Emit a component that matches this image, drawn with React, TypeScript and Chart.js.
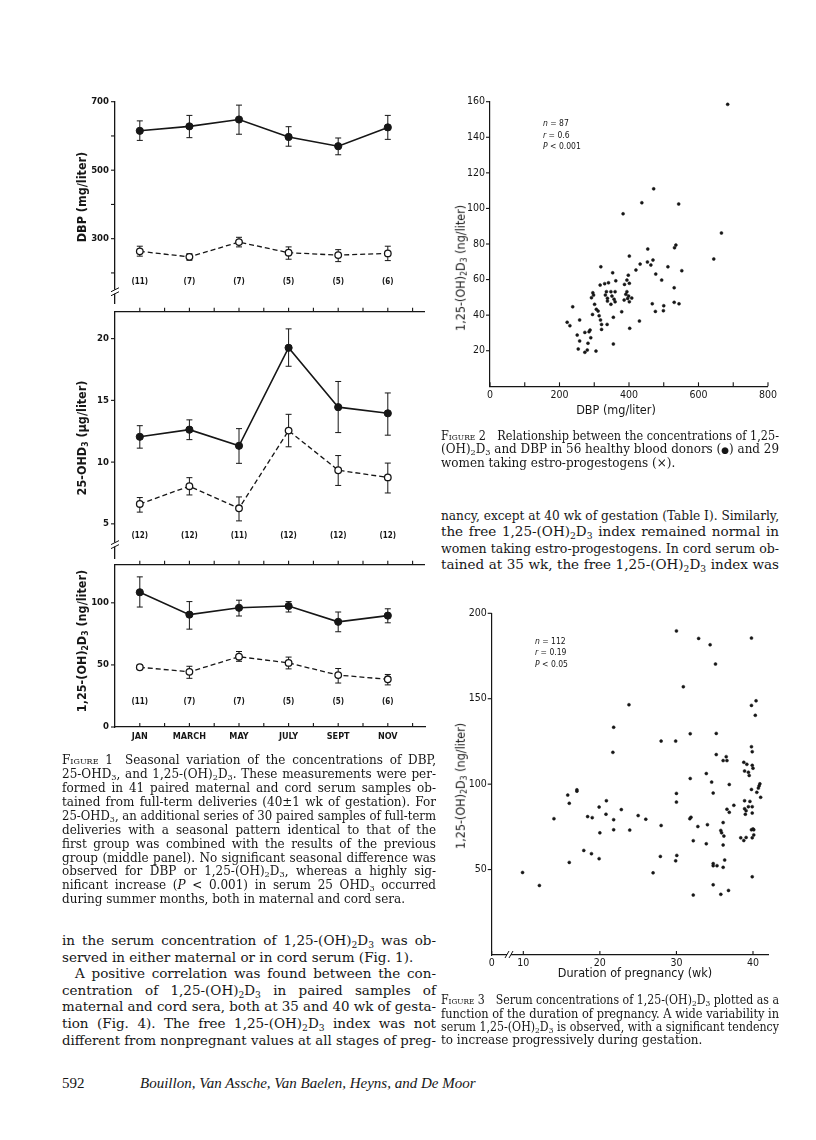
import React, { useEffect, useLayoutEffect, useRef } from 'react';
import { Chart, registerables } from 'chart.js';
Chart.register(...registerables);

// ---------------- Figure 1 data (seasonal variation) ----------------
const monthTickValues = [0, 1, 2, 3, 4, 5, 6, 7, 8, 9, 10, 11];
const monthTickLabels = ['JAN', '', 'MARCH', '', 'MAY', '', 'JULY', '', 'SEPT', '', 'NOV', ''];
const sampleMonths = [0, 2, 4, 6, 8, 10];

// DBP (mg/liter)
const dbpMaternal = [615, 628, 648, 597, 570, 625];
const dbpMaternalHi = [644, 660, 690, 627, 594, 660];
const dbpMaternalLo = [587, 595, 605, 570, 545, 590];
const dbpCord = [263, 247, 290, 259, 252, 257];
const dbpCordHi = [278, 256, 304, 276, 268, 278];
const dbpCordLo = [249, 237, 276, 240, 233, 236];
const dbpN = ['(11)', '(7)', '(7)', '(5)', '(5)', '(6)'];
const dbpTicks = [200, 300, 400, 500, 600, 700];
const dbpTickLabels = [300, 500, 700];

// 25-OHD3 (ug/liter)
const ohdMaternal = [12.05, 12.63, 11.32, 19.26, 14.45, 13.95];
const ohdMaternalHi = [12.95, 13.42, 12.71, 20.79, 16.53, 15.6];
const ohdMaternalLo = [11.13, 11.82, 9.9, 17.76, 12.39, 12.18];
const ohdCord = [6.61, 8.05, 6.26, 12.55, 9.34, 8.76];
const ohdCordHi = [7.13, 8.74, 7.18, 13.87, 10.53, 9.92];
const ohdCordLo = [5.95, 7.34, 5.24, 11.24, 8.11, 7.5];
const ohdN = ['(12)', '(12)', '(11)', '(12)', '(12)', '(12)'];
const ohdTicks = [5, 10, 15, 20];
const ohdTickLabels = [5, 10, 15, 20];

// 1,25-(OH)2D3 (ng/liter)
const calMaternal = [108.5, 90.5, 96, 97.4, 84.7, 89.7];
const calMaternalHi = [120.9, 101, 102.1, 101, 92.6, 95.2];
const calMaternalLo = [96.6, 78.8, 89.4, 92.6, 76.7, 83.9];
const calCord = [48.1, 44.4, 56.6, 51.6, 41.8, 38.4];
const calCordHi = [49.7, 48.9, 60.8, 56.3, 47.1, 42.3];
const calCordLo = [46.6, 39.2, 52.9, 46.8, 35.4, 33.9];
const calN = ['(11)', '(7)', '(7)', '(5)', '(5)', '(6)'];
const calTicks = [0, 50, 100];
const calTickLabels = [0, 50, 100];

// ---------------- Figure 2 data (DBP vs 1,25-(OH)2D3) ----------------
const fig2Dbp = [
  401, 319, 353, 398, 362, 394, 401, 387, 341, 330, 317, 296, 298, 335, 348, 360, 332, 351, 338, 338,
  357, 360, 348, 394, 391, 399, 396, 386, 401, 292, 301, 306, 311, 295, 314, 318, 238, 258, 222, 230,
  321, 337, 321, 355, 379, 402, 251, 273, 285, 288, 258, 290, 282, 254, 280, 273, 305, 355,
  437, 543, 666, 535, 531, 454, 644, 469, 453, 463, 432, 420, 512, 552, 477, 494, 530, 408, 467, 500,
  530, 544, 476, 499, 430, 684, 383, 471,
];
const fig2Calcitriol = [
  73.2, 67.2, 63.8, 62.5, 59.3, 59.7, 57.9, 57.3, 58.2, 57.7, 56.9, 52.6, 51.3, 53.2, 53.2, 53.2, 51.3, 50.7, 49.5, 47.9,
  49.0, 47.5, 46.1, 53.2, 51.7, 50.7, 49.4, 48.5, 47.5, 49.8, 46.1, 43.3, 42.3, 40.4, 39.7, 37.3, 44.7, 37.3, 36.0, 34.1,
  34.8, 34.8, 32.0, 38.8, 41.9, 32.6, 28.8, 30.3, 30.7, 31.6, 25.5, 27.3, 24.2, 21.0, 20.4, 19.1, 19.8, 23.8,
  103.2, 102.5, 86.2, 79.4, 77.9, 77.2, 71.6, 71.0, 69.9, 68.2, 68.7, 65.4, 67.2, 65.0, 63.1, 59.7, 55.4, 49.6, 46.4, 45.3,
  47.2, 46.4, 42.1, 42.5, 36.7, 158.5, 97.0, 111.0,
];
const fig2XTicks = [0, 100, 200, 300, 400, 500, 600, 700, 800];
const fig2XLabels = [0, 200, 400, 600, 800];
const fig2YTicks = [20, 40, 60, 80, 100, 120, 140, 160];

// ---------------- Figure 3 data (duration of pregnancy) ----------------
const fig3Weeks = [
  23.8, 21.8, 21.7, 17.0, 17.0, 15.8, 16.0, 20.85, 19.9, 22.8, 20.8, 18.4, 19.0, 14.0, 21.8, 21.8, 23.9, 20.0, 17.9, 18.9,
  19.9, 16.0, 9.9, 12.1,
  30.0, 32.9, 39.8, 34.4, 35.1, 30.9, 40.4, 39.8, 40.3, 31.8, 35.2, 28.0, 29.9, 39.8, 39.9, 35.2, 36.5, 36.1, 36.6, 38.8,
  39.2, 39.9, 40.0, 38.9, 39.4, 39.5, 33.9, 31.8,
  36.9, 34.6, 40.9, 40.8, 40.7, 39.8, 40.5, 41.0, 34.8, 30.0, 30.0, 38.9, 39.6, 37.5, 39.4, 39.9, 38.9, 36.6, 39.1, 36.9,
  39.9, 39.0, 25.0, 26.0, 31.9, 31.75, 28.0, 32.8, 34.05, 36.1, 35.8, 35.9, 36.2, 39.8, 40.0, 40.1, 40.1, 39.9, 38.4, 38.8,
  39.1, 32.2, 33.9, 36.1, 27.9, 30.05, 29.9, 36.3, 34.8, 34.8, 35.3, 36.1, 26.95, 39.9, 34.8, 32.2, 35.8, 36.8,
];
const fig3Calcitriol = [
  146.5, 133.3, 118.6, 96.7, 95.9, 93.6, 88.8, 90.3, 86.6, 85.1, 82.4, 81.0, 80.4, 79.8, 79.2, 73.3, 73.1, 71.5, 61.2, 59.3,
  56.4, 54.2, 48.3, 40.7,
  189.7, 185.3, 185.5, 181.6, 170.3, 157.0, 148.8, 146.1, 140.3, 129.5, 129.7, 125.2, 125.2, 121.9, 119.0, 117.3, 116.1, 113.8, 113.8, 112.8,
  111.6, 111.0, 109.3, 107.7, 107.0, 105.1, 106.2, 103.3,
  99.8, 101.2, 100.2, 99.0, 97.7, 96.9, 95.2, 92.3, 94.8, 94.6, 89.5, 90.3, 89.9, 87.6, 86.8, 86.8, 85.6, 85.3, 84.5, 83.5,
  83.1, 82.4, 81.6, 79.5, 80.6, 79.8, 75.8, 75.2, 76.3, 77.5, 72.9, 71.5, 69.6, 73.3, 73.8, 73.3, 70.3, 68.6, 68.6, 67.0,
  68.8, 66.9, 65.1, 64.4, 57.7, 58.3, 55.1, 55.6, 53.5, 52.3, 52.3, 51.3, 48.1, 45.8, 41.1, 35.1, 35.5, 37.8,
];
const fig3XMin = 5.87; // broken axis: this position is labelled "0"
const fig3XTicks = [fig3XMin, 10, 20, 30, 40];
const fig3YTicks = [50, 100, 150, 200];

// ---------------- shared styling ----------------
const SANS_N = '"Liberation Sans Narrow", "DejaVu Sans Condensed", "Liberation Sans", sans-serif';
const SERIF = '"DejaVu Serif", "Liberation Serif", serif';
const SERIF_T = '"Liberation Serif", "DejaVu Serif", serif';
const INK = '#161616';
Chart.defaults.font.family = SANS_N;
Chart.defaults.color = INK;

const extras = {
  id: 'extras',
  beforeDatasetsDraw(chart: any) {
    const ctx = chart.ctx;
    chart.data.datasets.forEach((ds: any, i: number) => {
      if (!ds.errHi) return;
      const meta = chart.getDatasetMeta(i);
      const ys = chart.scales[meta.yAxisID];
      ctx.save();
      ctx.strokeStyle = INK;
      ctx.lineWidth = 1;
      ctx.setLineDash([]);
      meta.data.forEach((pt: any, j: number) => {
        const x = pt.x;
        const yh = ys.getPixelForValue(ds.errHi[j]);
        const yl = ys.getPixelForValue(ds.errLo[j]);
        ctx.beginPath();
        ctx.moveTo(x, yh); ctx.lineTo(x, yl);
        ctx.moveTo(x - 3, yh); ctx.lineTo(x + 3, yh);
        ctx.moveTo(x - 3, yl); ctx.lineTo(x + 3, yl);
        ctx.stroke();
      });
      ctx.restore();
    });
  },
  afterDraw(chart: any, _args: any, opts: any) {
    const ctx = chart.ctx;
    const { left, right, top, bottom } = chart.chartArea;
    ctx.save();
    ctx.strokeStyle = INK;
    ctx.lineWidth = 1.1;
    ctx.setLineDash([]);
    (opts.marks || []).forEach((m: any) => {
      const s = chart.scales[m.axis];
      s.ticks.forEach((t: any) => {
        const p = s.getPixelForValue(t.value);
        ctx.beginPath();
        if (s.isHorizontal()) {
          const y0 = m.edge === 'top' ? top : bottom;
          ctx.moveTo(p, y0); ctx.lineTo(p, y0 + m.dir * m.len);
        } else {
          ctx.moveTo(left, p); ctx.lineTo(left + m.dir * m.len, p);
        }
        ctx.stroke();
      });
    });
    if (opts.topLine) {
      ctx.lineWidth = 1.3;
      ctx.beginPath(); ctx.moveTo(left, top); ctx.lineTo(right, top); ctx.stroke();
    }
    (opts.breaks || []).forEach((b: any) => {
      const s = chart.scales[b.axis];
      const p = s.getPixelForValue(b.value);
      ctx.lineWidth = 1;
      if (s.isHorizontal()) {
        ctx.fillStyle = '#fff';
        ctx.fillRect(p - 1, bottom - 2, 4, 4);
        ctx.beginPath();
        ctx.moveTo(p - 3, bottom + 3); ctx.lineTo(p + 1, bottom - 4);
        ctx.moveTo(p + 1, bottom + 3); ctx.lineTo(p + 5, bottom - 4);
        ctx.stroke();
      } else {
        ctx.fillStyle = '#fff';
        ctx.fillRect(left - 2, p - 1, 4, 4);
        ctx.beginPath();
        ctx.moveTo(left - 4, p + 1); ctx.lineTo(left + 4, p - 3);
        ctx.moveTo(left - 4, p + 5); ctx.lineTo(left + 4, p + 1);
        ctx.stroke();
      }
    });
    if (opts.nLabels) {
      const xs = chart.scales.x;
      const ys = chart.scales.y;
      ctx.fillStyle = INK;
      ctx.font = `bold 8px ${SANS_N}`;
      ctx.textAlign = 'center';
      ctx.textBaseline = 'middle';
      opts.nLabels.forEach((lab: string, i: number) => {
        ctx.fillText(lab, xs.getPixelForValue(opts.nX[i]), ys.getPixelForValue(opts.nY));
      });
    }
    ctx.restore();
  },
};

type PanelSpec = {
  mat: number[]; matHi: number[]; matLo: number[];
  cord: number[]; cordHi: number[]; cordLo: number[];
  yMin: number; yMax: number; yTicks: number[]; yLabels: number[];
  nLabels: string[]; nY: number;
  canvasTop: number; canvasH: number; areaTop: number; areaBottom: number;
  showX: boolean; topLine: boolean; breakAt?: number;
};

const F1_LEFT = 115;
const F1_RIGHT = 425;
const F1_W = 440;

function fig1Config(p: PanelSpec) {
  const xHeight = p.canvasTop + p.canvasH - p.areaBottom;
  const marks: any[] = [{ axis: 'y', dir: -1, len: 4 }];
  if (p.topLine) marks.push({ axis: 'x', edge: 'top', dir: -1, len: 4 });
  if (p.showX) marks.push({ axis: 'x', edge: 'bottom', dir: -1, len: 4 });
  return {
    type: 'line',
    data: {
      datasets: [
        {
          label: 'maternal',
          data: sampleMonths.map((m, i) => ({ x: m, y: p.mat[i] })),
          errHi: p.matHi, errLo: p.matLo,
          borderColor: INK, borderWidth: 1.6,
          pointRadius: 3.6, pointBackgroundColor: INK, pointBorderColor: INK, pointBorderWidth: 1,
          tension: 0,
        },
        {
          label: 'cord',
          data: sampleMonths.map((m, i) => ({ x: m, y: p.cord[i] })),
          errHi: p.cordHi, errLo: p.cordLo,
          borderColor: INK, borderWidth: 1.3, borderDash: [5, 3],
          pointRadius: 3.3, pointBackgroundColor: '#fff', pointBorderColor: INK, pointBorderWidth: 1.3,
          tension: 0,
        },
      ],
    },
    options: {
      animation: false,
      responsive: false,
      events: [],
      layout: {
        padding: {
          left: 0, right: F1_W - F1_RIGHT, top: p.areaTop - p.canvasTop,
          bottom: p.showX ? 0 : xHeight,
        },
      },
      plugins: {
        legend: { display: false }, tooltip: { enabled: false },
        extras: {
          marks, topLine: p.topLine,
          breaks: p.breakAt !== undefined ? [{ axis: 'y', value: p.breakAt }] : [],
          nLabels: p.nLabels, nX: sampleMonths, nY: p.nY,
        },
      },
      scales: {
        x: {
          type: 'linear', min: -1, max: 11.5,
          display: p.showX,
          afterBuildTicks: (s: any) => { s.ticks = monthTickValues.map((v) => ({ value: v })); },
          afterFit: (s: any) => { if (p.showX) s.height = xHeight; },
          grid: { display: false, drawTicks: false },
          border: { display: true, color: INK, width: 1.3 },
          ticks: {
            autoSkip: false, maxRotation: 0, padding: 4,
            font: { size: 9, weight: 'bold' },
            callback: (v: number) => monthTickLabels[v] ?? '',
          },
        },
        y: {
          type: 'linear', min: p.yMin, max: p.yMax,
          afterBuildTicks: (s: any) => { s.ticks = p.yTicks.map((v) => ({ value: v })); },
          afterFit: (s: any) => { s.width = F1_LEFT; },
          grid: { display: false, drawTicks: false },
          border: { display: true, color: INK, width: 1.3 },
          ticks: {
            padding: 6, font: { size: 9.5, weight: 'bold' },
            callback: (v: number) => (p.yLabels.includes(v) ? String(v) : ''),
          },
        },
      },
    },
    plugins: [extras],
  };
}

function scatterConfig(o: {
  xs: number[]; ys: number[]; xMin: number; xMax: number; yMin: number; yMax: number;
  xTicks: number[]; xLabel: (v: number) => string; yTicks: number[];
  canvasLeft: number; canvasTop: number; canvasW: number; canvasH: number;
  area: { left: number; top: number; right: number; bottom: number };
  xBreak?: number; xPad: number;
}) {
  return {
    type: 'scatter',
    data: {
      datasets: [{
        data: o.xs.map((x, i) => ({ x, y: o.ys[i] })),
        pointRadius: 1.5, pointBackgroundColor: INK, pointBorderColor: INK, pointBorderWidth: 0.5,
      }],
    },
    options: {
      animation: false,
      responsive: false,
      events: [],
      layout: {
        padding: {
          left: 0, top: o.area.top - o.canvasTop,
          right: o.canvasLeft + o.canvasW - o.area.right, bottom: 0,
        },
      },
      plugins: {
        legend: { display: false }, tooltip: { enabled: false },
        extras: {
          marks: [{ axis: 'y', dir: -1, len: 4 }, { axis: 'x', edge: 'bottom', dir: -1, len: 4 }],
          breaks: o.xBreak !== undefined ? [{ axis: 'x', value: o.xBreak }] : [],
        },
      },
      scales: {
        x: {
          type: 'linear', min: o.xMin, max: o.xMax,
          afterBuildTicks: (s: any) => { s.ticks = o.xTicks.map((v) => ({ value: v })); },
          afterFit: (s: any) => { s.height = o.canvasTop + o.canvasH - o.area.bottom; },
          grid: { display: false, drawTicks: false },
          border: { display: true, color: INK, width: 1.2 },
          ticks: { autoSkip: false, maxRotation: 0, padding: o.xPad, font: { size: 10.5 }, callback: o.xLabel },
        },
        y: {
          type: 'linear', min: o.yMin, max: o.yMax,
          afterBuildTicks: (s: any) => { s.ticks = o.yTicks.map((v) => ({ value: v })); },
          afterFit: (s: any) => { s.width = o.area.left - o.canvasLeft; },
          grid: { display: false, drawTicks: false },
          border: { display: true, color: INK, width: 1.2 },
          ticks: { padding: 5, font: { size: 10.5 }, callback: (v: number) => String(v) },
        },
      },
    },
    plugins: [extras],
  };
}

function ChartBox({ x, y, w, h, make }: { x: number; y: number; w: number; h: number; make: () => any }) {
  const ref = useRef<HTMLCanvasElement>(null);
  useEffect(() => {
    const chart = new Chart(ref.current as HTMLCanvasElement, make());
    return () => chart.destroy();
  }, []);
  return (
    <canvas ref={ref} width={w} height={h}
      style={{ position: 'absolute', left: x, top: y, width: w, height: h }} />
  );
}

// ---------------- text helpers ----------------
function rich(s: string) {
  const parts = s.split(/(_\d|\*[^*]+\*|●)/);
  return parts.map((p, i) => {
    if (/^_\d$/.test(p)) {
      return <sub key={i} style={{ fontSize: '0.68em', verticalAlign: '-0.28em', lineHeight: 0 }}>{p.slice(1)}</sub>;
    }
    if (p === '●') {
      return <span key={i} style={{ fontSize: '0.75em' }}>●</span>;
    }
    if (p.startsWith('*') && p.endsWith('*') && p.length > 2) {
      return <i key={i}>{p.slice(1, -1)}</i>;
    }
    return <React.Fragment key={i}>{p}</React.Fragment>;
  });
}

type Ln = { t: string; j?: boolean; ind?: number; sc?: string };

// One typeset line: justified to the column width, squeezed horizontally if it is too long.
function TypeLine({ left, top, width, size, ln }: { left: number; top: number; width: number; size: number; ln: Ln }) {
  const inner = useRef<HTMLSpanElement>(null);
  useLayoutEffect(() => {
    const fit = () => {
      const s = inner.current;
      if (!s) return;
      s.style.transform = '';
      s.style.display = 'inline';
      const nat = s.getBoundingClientRect().width;
      if (nat > width + 0.5) {
        s.style.display = 'inline-block';
        s.style.transformOrigin = 'left center';
        s.style.transform = `scaleX(${width / nat})`;
      }
    };
    fit();
    if ((document as any).fonts && (document as any).fonts.ready) (document as any).fonts.ready.then(fit);
  }, []);
  return (
    <div style={{
      position: 'absolute', left, top, width, fontSize: size, lineHeight: `${size}px`, fontFamily: SERIF,
      whiteSpace: 'nowrap', textAlign: ln.j ? 'justify' : 'left', textAlignLast: ln.j ? 'justify' : 'left', color: INK,
    } as any}>
      <span ref={inner}>
        {ln.sc && <span style={{ fontVariant: 'small-caps' }}>{ln.sc}</span>}
        {rich(ln.t)}
      </span>
    </div>
  );
}

function Para({ x, y0, dy, w, size, lines }: { x: number; y0: number; dy: number; w: number; size: number; lines: Ln[] }) {
  return (
    <>
      {lines.map((ln, i) => (
        <TypeLine key={i} left={x + (ln.ind || 0)} top={y0 + i * dy - 0.62 * size}
          width={w - (ln.ind || 0)} size={size} ln={ln} />
      ))}
    </>
  );
}

function Label({ x, y, size, text, rotate, weight }: { x: number; y: number; size: number; text: string; rotate?: boolean; weight?: string }) {
  return (
    <div style={{
      position: 'absolute', left: x, top: y, fontSize: size, fontFamily: SANS_N, fontWeight: weight || 'normal',
      whiteSpace: 'nowrap', color: INK, lineHeight: 1,
      transform: `translate(-50%, -50%)${rotate ? ' rotate(-90deg)' : ''}`,
    }}>{rich(text)}</div>
  );
}

function Stats({ x, y, lines }: { x: number; y: number; lines: string[] }) {
  return (
    <>
      {lines.map((t, i) => (
        <div key={i} style={{ position: 'absolute', left: x, top: y + i * 11.5 - 5, fontSize: 8.5, fontFamily: SANS_N, color: INK, whiteSpace: 'nowrap', lineHeight: 1 }}>
          {rich(t)}
        </div>
      ))}
    </>
  );
}

// ---------------- page ----------------
const fig1Caption: Ln[] = [
  { sc: 'Figure 1', t: '\u2003Seasonal variation of the concentrations of DBP,', j: true },
  { t: '25-OHD_3, and 1,25-(OH)_2D_3. These measurements were per-', j: true },
  { t: 'formed in 41 paired maternal and cord serum samples ob-', j: true },
  { t: 'tained from full-term deliveries (40±1 wk of gestation). For', j: true },
  { t: '25-OHD_3, an additional series of 30 paired samples of full-term', j: true },
  { t: 'deliveries with a seasonal pattern identical to that of the', j: true },
  { t: 'first group was combined with the results of the previous', j: true },
  { t: 'group (middle panel). No significant seasonal difference was', j: true },
  { t: 'observed for DBP or 1,25-(OH)_2D_3, whereas a highly sig-', j: true },
  { t: 'nificant increase (*P* < 0.001) in serum 25 OHD_3 occurred', j: true },
  { t: 'during summer months, both in maternal and cord sera.' },
];

const leftBody: Ln[] = [
  { t: 'in the serum concentration of 1,25-(OH)_2D_3 was ob-', j: true },
  { t: 'served in either maternal or in cord serum (Fig. 1).' },
  { t: 'A positive correlation was found between the con-', j: true, ind: 13 },
  { t: 'centration of 1,25-(OH)_2D_3 in paired samples of', j: true },
  { t: 'maternal and cord sera, both at 35 and 40 wk of gesta-', j: true },
  { t: 'tion (Fig. 4). The free 1,25-(OH)_2D_3 index was not', j: true },
  { t: 'different from nonpregnant values at all stages of preg-', j: true },
];

const fig2Caption: Ln[] = [
  { sc: 'Figure 2', t: '\u2003Relationship between the concentrations of 1,25-', j: true },
  { t: '(OH)_2D_3 and DBP in 56 healthy blood donors (●) and 29', j: true },
  { t: 'women taking estro-progestogens (×).' },
];

const rightBody: Ln[] = [
  { t: 'nancy, except at 40 wk of gestation (Table I). Similarly,', j: true },
  { t: 'the free 1,25-(OH)_2D_3 index remained normal in', j: true },
  { t: 'women taking estro-progestogens. In cord serum ob-', j: true },
  { t: 'tained at 35 wk, the free 1,25-(OH)_2D_3 index was', j: true },
];

const fig3Caption: Ln[] = [
  { sc: 'Figure 3', t: '\u2003Serum concentrations of 1,25-(OH)_2D_3 plotted as a', j: true },
  { t: 'function of the duration of pregnancy. A wide variability in', j: true },
  { t: 'serum 1,25-(OH)_2D_3 is observed, with a significant tendency', j: true },
  { t: 'to increase progressively during gestation.' },
];

export default function App() {
  return (
    <div style={{ position: 'absolute', left: 0, top: 0, width: 816, height: 1140, background: '#fff', overflow: 'hidden' }}>
      {/* Figure 1 panels */}
      <ChartBox x={0} y={90} w={F1_W} h={225} make={() => fig1Config({
        mat: dbpMaternal, matHi: dbpMaternalHi, matLo: dbpMaternalLo,
        cord: dbpCord, cordHi: dbpCordHi, cordLo: dbpCordLo,
        yMin: 111.3, yMax: 700, yTicks: dbpTicks, yLabels: dbpTickLabels,
        nLabels: dbpN, nY: 173, canvasTop: 90, canvasH: 225, areaTop: 100, areaBottom: 309,
        showX: false, topLine: false, breakAt: 148,
      })} />
      <ChartBox x={0} y={300} w={F1_W} h={270} make={() => fig1Config({
        mat: ohdMaternal, matHi: ohdMaternalHi, matLo: ohdMaternalLo,
        cord: ohdCord, cordHi: ohdCordHi, cordLo: ohdCordLo,
        yMin: 2.21, yMax: 22.18, yTicks: ohdTicks, yLabels: ohdTickLabels,
        nLabels: ohdN, nY: 4.03, canvasTop: 300, canvasH: 270, areaTop: 309, areaBottom: 562,
        showX: false, topLine: true, breakAt: 3.4,
      })} />
      <ChartBox x={0} y={553} w={F1_W} h={197} make={() => fig1Config({
        mat: calMaternal, matHi: calMaternalHi, matLo: calMaternalLo,
        cord: calCord, cordHi: calCordHi, cordLo: calCordLo,
        yMin: 0, yMax: 130.7, yTicks: calTicks, yLabels: calTickLabels,
        nLabels: calN, nY: 19.8, canvasTop: 553, canvasH: 197, areaTop: 562, areaBottom: 727,
        showX: true, topLine: true,
      })} />
      <Label x={82} y={197} size={12.5} weight="bold" rotate text="DBP (mg/liter)" />
      <Label x={82} y={438} size={12.5} weight="bold" rotate text="25-OHD_3 (µg/liter)" />
      <Label x={82} y={641} size={12.5} weight="bold" rotate text="1,25-(OH)_2D_3 (ng/liter)" />

      {/* Figure 2 */}
      <ChartBox x={440} y={90} w={340} h={315} make={() => scatterConfig({
        xs: fig2Dbp, ys: fig2Calcitriol, xMin: 0, xMax: 800, yMin: 0, yMax: 160,
        xTicks: fig2XTicks, xLabel: (v) => (fig2XLabels.includes(v) ? String(v) : ''), yTicks: fig2YTicks,
        canvasLeft: 440, canvasTop: 90, canvasW: 340, canvasH: 315,
        area: { left: 490, top: 101.7, right: 768, bottom: 386.3 }, xPad: 3,
      })} />
      <Label x={460.5} y={268} size={12.5} rotate text="1,25-(OH)_2D_3 (ng/liter)" />
      <Label x={616} y={410} size={12.5} text="DBP (mg/liter)" />
      <Stats x={543} y={124.3} lines={['*n* = 87', '*r* = 0.6', '*P* < 0.001']} />

      {/* Figure 3 */}
      <ChartBox x={440} y={600} w={340} h={370} make={() => scatterConfig({
        xs: fig3Weeks, ys: fig3Calcitriol, xMin: fig3XMin, xMax: 42, yMin: 0, yMax: 200,
        xTicks: fig3XTicks, xLabel: (v) => (v === fig3XMin ? '0' : String(v)), yTicks: fig3YTicks,
        canvasLeft: 440, canvasTop: 600, canvasW: 340, canvasH: 370,
        area: { left: 491.7, top: 613.3, right: 768.3, bottom: 955 }, xBreak: 8, xPad: 2,
      })} />
      <Label x={460.5} y={786} size={12.5} rotate text="1,25-(OH)_2D_3 (ng/liter)" />
      <Label x={635} y={973} size={12.5} text="Duration of pregnancy (wk)" />
      <Stats x={535} y={641.7} lines={['*n* = 112', '*r* = 0.19', '*P* < 0.05']} />

      {/* Text */}
      <Para x={62} y0={761.7} dy={13.9} w={374} size={12} lines={fig1Caption} />
      <Para x={62} y0={942.3} dy={16.6} w={374} size={13.5} lines={leftBody} />
      <Para x={441} y0={437} dy={13.9} w={338} size={12} lines={fig2Caption} />
      <Para x={441} y0={517} dy={16.6} w={338} size={13.5} lines={rightBody} />
      <Para x={441} y0={1001.7} dy={13.4} w={338} size={12} lines={fig3Caption} />
      <div style={{ position: 'absolute', left: 62, top: 1085 - 9, fontSize: 15, fontFamily: SERIF_T, color: INK, lineHeight: '15px' }}>592</div>
      <div style={{ position: 'absolute', left: 140, top: 1085 - 9, fontSize: 15, fontFamily: SERIF_T, fontStyle: 'italic', color: INK, lineHeight: '15px', whiteSpace: 'nowrap' }}>
        Bouillon, Van Assche, Van Baelen, Heyns, and De Moor
      </div>
    </div>
  );
}
